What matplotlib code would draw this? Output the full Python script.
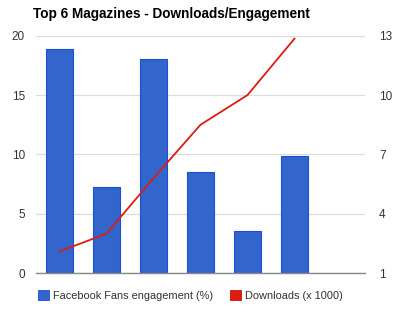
import numpy as np
import matplotlib
matplotlib.use("Agg")
import matplotlib.pyplot as plt
from matplotlib.patches import Patch

# seven category slots, the last one is empty in the original
categories = ["Mag 1", "Mag 2", "Mag 3", "Mag 4", "Mag 5", "Mag 6", ""]
fans_engagement = [18.9, 7.25, 18.0, 8.5, 3.55, 9.9, np.nan]
downloads = [2.1, 3.0, 5.8, 8.5, 10.0, 12.85, np.nan]

left_ticks = [0, 5, 10, 15, 20]
right_ticks = [1, 4, 7, 10, 13]

BLUE = "#3366cc"
RED = "#dd1c0e"

plt.rcParams["font.family"] = ["Liberation Sans", "DejaVu Sans"]

fig = plt.figure(figsize=(4.0, 3.13), dpi=100)
ax = fig.add_axes([0.09, 0.127, 0.8225, 0.759])
x = np.arange(len(categories))

ax.bar(x, fans_engagement, width=0.59, color=BLUE, edgecolor="#1c4fd0",
       linewidth=0.8, zorder=2)
ax.set_xlim(-0.5, len(categories) - 0.5)
ax.set_ylim(0, 20)
ax.set_yticks(left_ticks)
ax.set_xticks([])
ax.grid(axis="y", color="#dcdcdc", linewidth=0.9, zorder=0)
ax.set_axisbelow(True)
for s in ["top", "left", "right"]:
    ax.spines[s].set_visible(False)
ax.spines["bottom"].set_color("#888888")
ax.spines["bottom"].set_linewidth(1.0)
ax.tick_params(axis="y", length=0, pad=8, labelsize=8.5, colors="#333333")

ax2 = ax.twinx()
ax2.plot(x, downloads, color=RED, linewidth=1.3, zorder=3)
ax2.set_ylim(1, 13)
ax2.set_yticks(right_ticks)
for s in ["top", "left", "right", "bottom"]:
    ax2.spines[s].set_visible(False)
ax2.tick_params(axis="y", length=0, pad=10, labelsize=8.5, colors="#333333")

fig.text(0.083, 0.955, "Top 6 Magazines - Downloads/Engagement", fontsize=9.85,
         fontweight="bold", va="center", ha="left", color="#000000")

handles = [Patch(facecolor=BLUE, edgecolor="#1c4fd0", linewidth=0.6),
           Patch(facecolor=RED, edgecolor="#c0180a", linewidth=0.6)]
fig.legend(handles, ["Facebook Fans engagement (%)", "Downloads (x 1000)"],
           loc="center left", bbox_to_anchor=(0.07, 0.055), ncol=2,
           frameon=False, fontsize=7.9, handlelength=1.0, handleheight=1.0,
           handletextpad=0.4, columnspacing=1.5, labelcolor="#333333")

fig.savefig("out.png", dpi=100)
